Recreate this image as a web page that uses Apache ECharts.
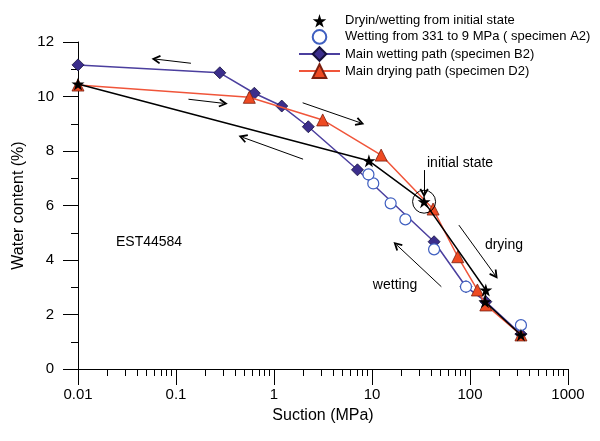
<!DOCTYPE html>
<html>
<head>
<meta charset="utf-8">
<script src="https://cdn.jsdelivr.net/npm/echarts@6/dist/echarts.min.js"></script>
<style>
  html, body { margin: 0; padding: 0; background: #fff; }
  #chart { width: 600px; height: 441px; }
</style>
</head>
<body>
<div id="chart"></div>
<script>
// Dryin/wetting from initial state (stars)
const suctionInit = [0.01, 9.3, 34, 145, 142, 331];
const wInit = [10.46, 7.64, 6.14, 2.9, 2.47, 1.25];

// Wetting from 331 to 9 MPa, specimen A2 (open circles)
const suctionA2 = [331, 91, 43, 21.9, 15.5, 10.3, 9.2];
const wA2 = [1.61, 3.02, 4.39, 5.49, 6.08, 6.81, 7.14];

// Main wetting path, specimen B2 (diamonds)
const suctionB2 = [0.01, 0.28, 0.63, 1.2, 2.24, 7.1, 43, 91, 145, 331];
const wB2 = [11.16, 10.87, 10.12, 9.65, 8.89, 7.31, 4.67, 3.02, 2.47, 1.28];

// Main drying path, specimen D2 (triangles)
const suctionD2 = [0.01, 0.56, 3.14, 12.4, 42, 75, 119, 145, 331];
const wD2 = [10.42, 9.97, 9.14, 7.85, 5.87, 4.12, 2.9, 2.35, 1.25];

const seriesNames = [
  'Dryin/wetting from initial state',
  'Wetting from 331 to 9 MPa ( specimen A2)',
  'Main wetting path (specimen B2)',
  'Main drying path (specimen D2)'
];

// minor ticks of the log axis (2..9 in each decade)
const xMinorTicks = [
  0.02, 0.03, 0.04, 0.05, 0.06, 0.07, 0.08, 0.09,
  0.2, 0.3, 0.4, 0.5, 0.6, 0.7, 0.8, 0.9,
  2, 3, 4, 5, 6, 7, 8, 9,
  20, 30, 40, 50, 60, 70, 80, 90,
  200, 300, 400, 500, 600, 700, 800, 900
];

// arrows drawn on the plot: [x1, y1, x2, y2] in data units, head at the 2nd point
const arrows = [
  [0.142, 11.22, 0.0625, 11.37],
  [0.134, 9.90, 0.304, 9.75],
  [1.98, 7.70, 0.48, 8.50],
  [1.96, 9.77, 7.55, 9.04],
  [77, 5.28, 180, 3.45],
  [51, 3.02, 17.9, 4.55],
  [34, 7.30, 34, 6.46]
];

// text notes: [x, y, text] (left edge, vertical centre)
const notes = [
  [36.4, 7.56, 'initial state'],
  [142, 4.55, 'drying'],
  [10.2, 3.08, 'wetting'],
  [0.0244, 4.66, 'EST44584']
];

const STAR = 'path://M50,0L61.2,34.5L97.6,34.5L68.2,55.9L79.4,90.5L50,69.1L20.6,90.5L31.8,55.9L2.4,34.5L38.8,34.5Z';
const HEAD = 'path://M5,0L10,9L8.3,10L5,4.3L1.7,10L0,9Z';
const FONT = 'Liberation Sans, Arial, sans-serif';

function pairs(xs, ys) {
  return xs.map((x, i) => [x, ys[i]]);
}

const chart = echarts.init(document.getElementById('chart'));

chart.setOption({
  animation: false,
  backgroundColor: '#fff',
  textStyle: { fontFamily: FONT },
  grid: { left: 78, right: 32, top: 42, bottom: 72, containLabel: false },
  legend: {
    orient: 'vertical',
    left: 293,
    top: 9,
    itemWidth: 41,
    itemHeight: 17,
    itemGap: 1.5,
    textStyle: { fontSize: 13, color: '#000', fontFamily: FONT },
    data: [
      { name: seriesNames[0], lineStyle: { opacity: 0 } },
      { name: seriesNames[1] },
      { name: seriesNames[2] },
      { name: seriesNames[3] }
    ]
  },
  xAxis: [
    {
      type: 'log',
      logBase: 10,
      min: 0.01,
      max: 1000,
      name: 'Suction (MPa)',
      nameLocation: 'middle',
      nameGap: 39,
      nameTextStyle: { fontSize: 16, color: '#000', fontFamily: FONT },
      axisLine: { lineStyle: { color: '#000', width: 1 } },
      axisTick: { length: 16, lineStyle: { color: '#000' } },
      axisLabel: {
        margin: 18,
        fontSize: 15,
        color: '#000',
        formatter: v => String(Number(v.toPrecision(3)))
      },
      splitLine: { show: false }
    },
    {
      // log-spaced minor ticks only
      type: 'value',
      position: 'bottom',
      min: -2,
      max: 3,
      axisLine: { show: false, onZero: false },
      axisLabel: { show: false },
      axisTick: {
        length: 7,
        lineStyle: { color: '#000' },
        customValues: xMinorTicks.map(v => Math.log10(v))
      },
      splitLine: { show: false }
    }
  ],
  yAxis: {
    type: 'value',
    min: 0,
    max: 12,
    interval: 2,
    name: 'Water content (%)',
    nameLocation: 'middle',
    nameGap: 41,
    nameTextStyle: { fontSize: 16, color: '#000', fontFamily: FONT },
    axisLine: { show: true, onZero: false, lineStyle: { color: '#000', width: 1 } },
    axisTick: { show: true, length: 15, lineStyle: { color: '#000' } },
    minorTick: { show: true, splitNumber: 2, length: 7, lineStyle: { color: '#000' } },
    axisLabel: { margin: 24, fontSize: 15, color: '#000' },
    splitLine: { show: false }
  },
  series: [
    {
      name: seriesNames[2],
      type: 'line',
      data: pairs(suctionB2, wB2),
      symbol: 'diamond',
      symbolSize: 12,
      showAllSymbol: true,
      lineStyle: { color: '#4b3f9e', width: 1.5 },
      itemStyle: { color: '#3b2e8c', borderColor: '#15103c', borderWidth: 0.8 },
      z: 2
    },
    {
      name: seriesNames[3],
      type: 'line',
      data: pairs(suctionD2, wD2),
      symbol: 'triangle',
      symbolSize: 12,
      showAllSymbol: true,
      lineStyle: { color: '#f0553a', width: 1.5 },
      itemStyle: { color: '#ee4a22', borderColor: '#7a2010', borderWidth: 0.8 },
      z: 3
    },
    {
      name: seriesNames[1],
      type: 'line',
      data: pairs(suctionA2, wA2),
      symbol: 'circle',
      symbolSize: 11,
      showAllSymbol: true,
      lineStyle: { opacity: 0 },
      itemStyle: { color: '#fff', borderColor: '#3f5fc0', borderWidth: 1.2 },
      z: 4
    },
    {
      name: seriesNames[0],
      type: 'line',
      data: pairs(suctionInit, wInit),
      symbol: STAR,
      symbolSize: 13,
      showAllSymbol: true,
      lineStyle: { color: '#000', width: 1.5 },
      itemStyle: { color: '#000' },
      z: 5,
      markLine: {
        silent: true,
        symbol: ['none', HEAD],
        symbolSize: 9,
        lineStyle: { color: '#000', width: 1, type: 'solid' },
        itemStyle: { color: '#000' },
        label: { show: false },
        emphasis: { disabled: true },
        data: arrows.map(a => [{ coord: [a[0], a[1]] }, { coord: [a[2], a[3]] }])
      },
      markPoint: {
        silent: true,
        data: [
          {
            coord: [suctionInit[2], wInit[2]],
            symbol: 'circle',
            symbolSize: 23,
            itemStyle: { color: 'rgba(0,0,0,0)', borderColor: '#000', borderWidth: 1 },
            label: { show: false }
          }
        ].concat(notes.map(n => ({
          coord: [n[0], n[1]],
          symbol: 'circle',
          symbolSize: 0,
          label: {
            show: true,
            position: 'right',
            distance: 0,
            formatter: n[2],
            fontSize: 14,
            color: '#000',
            fontFamily: FONT
          }
        })))
      }
    }
  ]
});
</script>
</body>
</html>
